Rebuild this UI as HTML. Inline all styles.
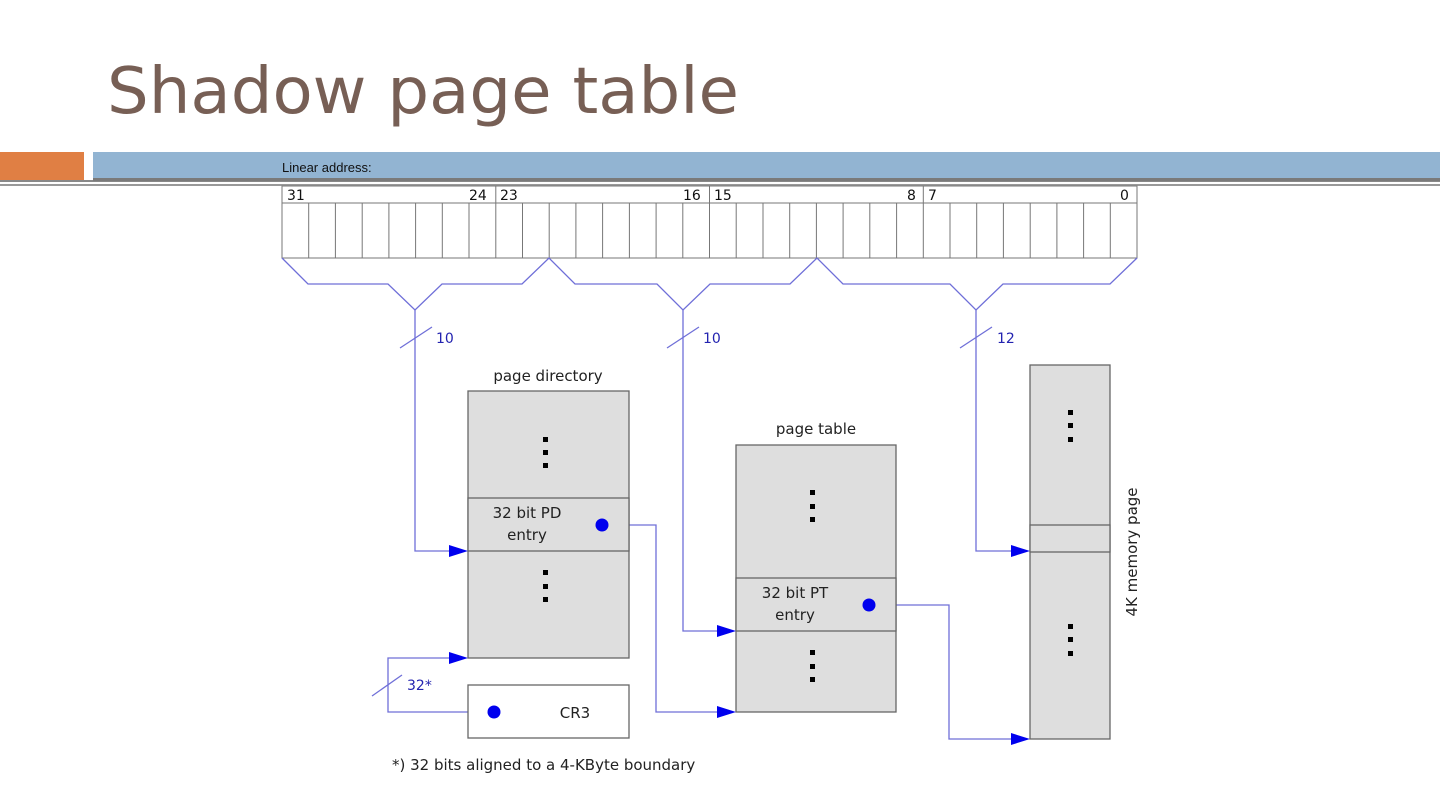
<!DOCTYPE html>
<html><head><meta charset="utf-8"><style>
html,body{margin:0;padding:0;background:#fff;}
svg{display:block;}
</style></head><body>
<svg width="1440" height="810" viewBox="0 0 1440 810" xmlns="http://www.w3.org/2000/svg" font-family="DejaVu Sans, Liberation Sans, sans-serif">
<rect width="1440" height="810" fill="#fff"/>
<text x="107" y="113" font-size="64" fill="#775f55" textLength="632" lengthAdjust="spacingAndGlyphs">Shadow page table</text>
<rect x="0" y="152" width="84" height="28" fill="#e07f44"/>
<rect x="93" y="152" width="1347" height="27" fill="#92b4d2"/>
<rect x="0" y="180" width="1440" height="2" fill="#888"/>
<rect x="93" y="178" width="1347" height="3" fill="#7a7a7a"/>
<rect x="0" y="184" width="1440" height="2" fill="#999"/>
<text x="282" y="172" font-size="13" fill="#111" font-family="Liberation Sans, sans-serif">Linear address:</text>

<g stroke="#777" stroke-width="1" fill="none">
<rect x="282" y="186" width="855" height="72" fill="#fff"/>
<line x1="282" y1="203" x2="1137" y2="203"/>
<line x1="495.8" y1="186" x2="495.8" y2="203"/>
<line x1="709.5" y1="186" x2="709.5" y2="203"/>
<line x1="923.3" y1="186" x2="923.3" y2="203"/>
<path d="M308.7 203V258M335.4 203V258M362.2 203V258M388.9 203V258M415.6 203V258M442.3 203V258M469 203V258M495.8 203V258M522.5 203V258M549.2 203V258M575.9 203V258M602.6 203V258M629.4 203V258M656.1 203V258M682.8 203V258M709.5 203V258M736.2 203V258M763 203V258M789.7 203V258M816.4 203V258M843.1 203V258M869.8 203V258M896.6 203V258M923.3 203V258M950 203V258M976.7 203V258M1003.4 203V258M1030.2 203V258M1056.9 203V258M1083.6 203V258M1110.3 203V258"/>
</g>
<g font-size="14" fill="#111">
<text x="287" y="200">31</text>
<text x="469" y="200">24</text>
<text x="500" y="200">23</text>
<text x="683" y="200">16</text>
<text x="714" y="200">15</text>
<text x="907" y="200">8</text>
<text x="928" y="200">7</text>
<text x="1120" y="200">0</text>
</g>

<g stroke="#6f6fd8" stroke-width="1.3" fill="none">
<path d="M282 258L308 284H388L415 310L442 284H522L549 258L575 284H657L683 310L710 284H790L817 258L843 284H950L976 310L1003 284H1110L1137 258"/>
<path d="M415 310V551H455"/>
<path d="M683 310V631H722"/>
<path d="M976 310V551H1016"/>
<path d="M602 525H656V712H722"/>
<path d="M869 605H949V739H1016"/>
<path d="M494 712H388V658H455"/>
<line x1="400" y1="348" x2="432" y2="327"/>
<line x1="667" y1="348" x2="699" y2="327"/>
<line x1="960" y1="348" x2="992" y2="327"/>
<line x1="372" y1="696" x2="402" y2="675"/>
</g>
<g font-size="14" fill="#2323b0">
<text x="436" y="343">10</text>
<text x="703" y="343">10</text>
<text x="997" y="343">12</text>
<text x="407" y="690">32*</text>
</g>

<g stroke="#666" stroke-width="1.3" fill="#dedede">
<rect x="468" y="391" width="161" height="267"/>
<rect x="468" y="498" width="161" height="53"/>
<rect x="736" y="445" width="160" height="267"/>
<rect x="736" y="578" width="160" height="53"/>
<rect x="1030" y="365" width="80" height="374"/>
<rect x="1030" y="525" width="80" height="27"/>
<rect x="468" y="685" width="161" height="53" fill="#fff"/>
</g>

<g fill="#000">
<rect x="543" y="437" width="5" height="5"/><rect x="543" y="450" width="5" height="5"/><rect x="543" y="463" width="5" height="5"/>
<rect x="543" y="570" width="5" height="5"/><rect x="543" y="584" width="5" height="5"/><rect x="543" y="597" width="5" height="5"/>
<rect x="810" y="490" width="5" height="5"/><rect x="810" y="504" width="5" height="5"/><rect x="810" y="517" width="5" height="5"/>
<rect x="810" y="650" width="5" height="5"/><rect x="810" y="664" width="5" height="5"/><rect x="810" y="677" width="5" height="5"/>
<rect x="1068" y="410" width="5" height="5"/><rect x="1068" y="423" width="5" height="5"/><rect x="1068" y="437" width="5" height="5"/>
<rect x="1068" y="624" width="5" height="5"/><rect x="1068" y="637" width="5" height="5"/><rect x="1068" y="651" width="5" height="5"/>
</g>

<g fill="#0000ee">
<circle cx="602" cy="525" r="6.5"/>
<circle cx="869" cy="605" r="6.5"/>
<circle cx="494" cy="712" r="6.5"/>
<path d="M449 545L468 551L449 557Z"/>
<path d="M717 625L736 631L717 637Z"/>
<path d="M1011 545L1030 551L1011 557Z"/>
<path d="M717 706L736 712L717 718Z"/>
<path d="M1011 733L1030 739L1011 745Z"/>
<path d="M449 652L468 658L449 664Z"/>
</g>

<g font-size="15" fill="#222">
<text x="548" y="381" text-anchor="middle">page directory</text>
<text x="816" y="434" text-anchor="middle">page table</text>
<text x="527" y="518" text-anchor="middle">32 bit PD</text>
<text x="527" y="540" text-anchor="middle">entry</text>
<text x="795" y="598" text-anchor="middle">32 bit PT</text>
<text x="795" y="620" text-anchor="middle">entry</text>
<text x="575" y="718" text-anchor="middle">CR3</text>
<text x="392" y="770">*) 32 bits aligned to a 4-KByte boundary</text>
<text transform="translate(1137 552) rotate(-90)" text-anchor="middle">4K memory page</text>
</g>
</svg>
</body></html>
